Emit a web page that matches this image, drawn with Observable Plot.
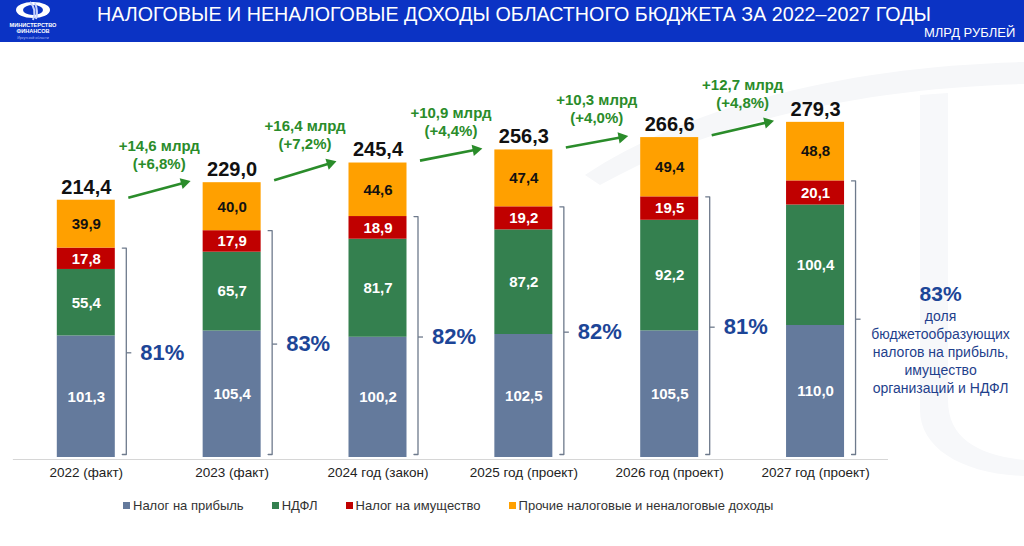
<!DOCTYPE html>
<html>
<head>
<meta charset="utf-8">
<script src="https://cdn.jsdelivr.net/npm/d3@7"></script>
<script src="https://cdn.jsdelivr.net/npm/@observablehq/plot@0.6"></script>
<style>
  html, body { margin: 0; padding: 0; background: #fff; }
  body { width: 1024px; height: 546px; position: relative; overflow: hidden; font-family: "Liberation Sans", Arial, sans-serif; }
  #bg { position: absolute; left: 0; top: 0; }
  #header { position: absolute; left: 0; top: 0; width: 1024px; height: 42px; background: #0b33c4; color: #fff; }
  #title { position: absolute; left: 97px; top: 3px; font-size: 19.7px; white-space: nowrap; letter-spacing: 0px; }
  #units { position: absolute; left: 924px; top: 25px; font-size: 13px; white-space: nowrap; }
  #logo { position: absolute; left: 0; top: 0; width: 66px; height: 42px; }
  #chart { position: absolute; left: 0; top: 42px; }
  #legend { position: absolute; left: 123px; top: 498px; display: flex; align-items: center; font-size: 13px; color: #333; white-space: nowrap; }
  .item { display: flex; align-items: center; margin-right: 28px; }
  .sw { width: 7px; height: 7px; margin-right: 3px; }
</style>
</head>
<body>
<svg id="bg" width="1024" height="546">
  <path d="M585,175 C700,100 860,66 1024,62 L1024,84 C870,88 720,118 600,185 Z" fill="#f6f7f9"/>
  <path d="M920,95 L948,93 L948,400 C948,440 980,455 1024,460 L1024,476 C962,474 920,448 920,410 Z" fill="#f7f8fa"/>
</svg>
<div id="header">
  <svg id="logo" viewBox="0 0 66 42">
    <ellipse cx="33" cy="10" rx="17" ry="8" fill="#ffffff"/>
    <ellipse cx="33" cy="10" rx="10" ry="5" fill="#0b33c4"/>
    <path d="M30,2 C34,6 36,12 33,20 M35,3 C37,8 38,13 36,19" stroke="#c9d4ff" stroke-width="2" fill="none"/>
    <text x="33" y="27" text-anchor="middle" font-size="5.6" font-weight="bold" fill="#fff" font-family="Liberation Sans, Arial">МИНИСТЕРСТВО</text>
    <text x="33" y="33" text-anchor="middle" font-size="5.6" font-weight="bold" fill="#fff" font-family="Liberation Sans, Arial">ФИНАНСОВ</text>
    <text x="33" y="39" text-anchor="middle" font-size="3.6" fill="#aebcf0" font-family="Liberation Sans, Arial">Иркутской области</text>
  </svg>
  <div id="title">НАЛОГОВЫЕ И НЕНАЛОГОВЫЕ ДОХОДЫ ОБЛАСТНОГО БЮДЖЕТА ЗА 2022–2027 ГОДЫ</div>
  <div id="units">МЛРД РУБЛЕЙ</div>
</div>
<div id="chart"></div>
<div id="legend"></div>
<script>
// ---- data ----
const categories = ["2022 (факт)", "2023 (факт)", "2024 год (закон)", "2025 год (проект)", "2026 год (проект)", "2027 год (проект)"];
const profitTax = [101.3, 105.4, 100.2, 102.5, 105.5, 110.0];
const ndfl = [55.4, 65.7, 81.7, 87.2, 92.2, 100.4];
const propertyTax = [17.8, 17.9, 18.9, 19.2, 19.5, 20.1];
const otherIncome = [39.9, 40.0, 44.6, 47.4, 49.4, 48.8];
const totals = [214.4, 229.0, 245.4, 256.3, 266.6, 279.3];
const growthAbs = ["+14,6 млрд", "+16,4 млрд", "+10,9 млрд", "+10,3 млрд", "+12,7 млрд"];
const growthPct = ["(+6,8%)", "(+7,2%)", "(+4,4%)", "(+4,0%)", "(+4,8%)"];
const coreShare = ["81%", "83%", "82%", "82%", "81%", "83%"];
const shareNote = "доля\nбюджетообразующих\nналогов на прибыль,\nимущество\nорганизаций и НДФЛ";
const seriesNames = ["Налог на прибыль", "НДФЛ", "Налог на имущество", "Прочие налоговые и неналоговые доходы"];
const seriesColors = ["#647a9c", "#34804f", "#c00000", "#ffa000"];

// ---- derived ----
const series = [profitTax, ndfl, propertyTax, otherIncome];
const fmt = v => v.toFixed(1).replace(".", ",");
const segs = [];
categories.forEach((c, i) => {
  let acc = 0;
  series.forEach((s, k) => { segs.push({i, k, name: seriesNames[k], y1: acc, y2: acc + s[i], v: s[i]}); acc += s[i]; });
});
const core = categories.map((c, i) => profitTax[i] + ndfl[i] + propertyTax[i]);

const W = 1024, H = 448;
const PX = 145.85;             // px per category step
const X0 = 85.8;               // px of first category centre
const PY = 1.2;                // px per unit
const BASE = 415;              // baseline px within svg
const HW = 29 / PX;            // half bar width
const BX = HW + 11 / PX;       // bracket offset
const HOOK = 4 / PX;
const green = "#2a8c2a";
const blue = "#1c4597";

const brackets = [];
categories.forEach((c, i) => {
  const bx = i + BX, b = 3 / PY;
  brackets.push({i, x: bx - HOOK, y: b}, {i, x: bx, y: b}, {i, x: bx, y: core[i]}, {i, x: bx - HOOK, y: core[i]});
});
const arrows = growthAbs.map((g, i) => {
  const x1 = i + HW + 13 / PX, x2 = i + 1 - HW - 14 / PX;
  const y1 = totals[i] + 2, y2 = totals[i + 1] + 1;
  const dxp = (x2 - x1) * PX, dyp = (y2 - y1) * PY;
  const a = Math.atan2(dyp, dxp);
  const rot = 90 - a * 180 / Math.PI;
  return {i, x1, x2, y1, y2, rot, xl: x2 - 5 / PX * Math.cos(a), yl: y2 - 5 / PY * Math.sin(a)};
});

const chart = Plot.plot({
  width: W, height: H,
  marginLeft: 0, marginRight: 0, marginTop: 0, marginBottom: H - BASE,
  style: {fontFamily: "Liberation Sans, Arial, sans-serif", background: "transparent", overflow: "visible"},
  x: {type: "linear", domain: [-X0 / PX, (W - X0) / PX], axis: null},
  y: {domain: [0, BASE / PY], axis: null},
  color: {domain: seriesNames, range: seriesColors},
  marks: [
    Plot.ruleY([0], {x1: -0.5, x2: categories.length - 0.5, stroke: "#d6d6d6", strokeWidth: 1, dy: 2}),
    Plot.rect(segs, {x1: d => d.i - HW, x2: d => d.i + HW, y1: "y1", y2: "y2", fill: "name"}),
    Plot.text(segs, {x: "i", y: d => (d.y1 + d.y2) / 2, text: d => fmt(d.v), fill: d => d.k === 3 ? "#111" : "#fff", fontSize: 15, fontWeight: "bold"}),
    Plot.text(totals, {x: (d, i) => i, y: d => d, dy: -13, text: d => fmt(d), fontSize: 20, fontWeight: "bold", fill: "#111"}),
    Plot.link(arrows, {x1: "x1", y1: "y1", x2: "xl", y2: "yl", stroke: green, strokeWidth: 2.6}),
    Plot.dot(arrows, {x: "xl", y: "yl", symbol: "triangle", rotate: "rot", r: 4.2, fill: green, stroke: null}),
    Plot.text(growthAbs, {x: (d, i) => i + 0.5, y: (d, i) => totals[i + 1], dy: -37, text: d => d, fill: green, fontSize: 15, fontWeight: "bold"}),
    Plot.text(growthPct, {x: (d, i) => i + 0.5, y: (d, i) => totals[i + 1], dy: -19, text: d => d, fill: green, fontSize: 15, fontWeight: "bold"}),
    Plot.line(brackets, {x: "x", y: "y", z: "i", stroke: "#6e7a8c", strokeWidth: 1.3, curve: "linear"}),
    Plot.link(core, {x1: (d, i) => i + BX, x2: (d, i) => i + BX + 5 / PX, y1: d => d / 2, y2: d => d / 2, stroke: "#6e7a8c", strokeWidth: 1.3}),
    Plot.text(coreShare.slice(0, 5), {x: (d, i) => i + BX, y: (d, i) => core[i] / 2, dx: 14, textAnchor: "start", text: d => d, fontSize: 22, fontWeight: "bold", fill: blue}),
    Plot.text(coreShare.slice(5), {x: () => 5 + BX, y: () => core[5] / 2, dx: 85, dy: -25, text: d => d, fontSize: 21, fontWeight: "bold", fill: blue}),
    Plot.text([shareNote], {x: () => 5 + BX, y: () => core[5] / 2, dx: 85, dy: -11, lineAnchor: "top", lineHeight: 1.29, text: d => d, fontSize: 14, fill: "#1f3f8c"}),
    Plot.axisX({ticks: categories.map((c, i) => i), tickFormat: i => categories[i], tickSize: 0, tickPadding: 10, fontSize: 13.5, fill: "#222", stroke: null})
  ]
});
document.getElementById("chart").appendChild(chart);

// legend
const lg = document.getElementById("legend");
seriesNames.forEach((n, k) => {
  const it = document.createElement("div"); it.className = "item";
  const sw = document.createElement("div"); sw.className = "sw"; sw.style.background = seriesColors[k];
  const tx = document.createElement("span"); tx.textContent = n;
  it.appendChild(sw); it.appendChild(tx); lg.appendChild(it);
});
</script>
</body>
</html>
